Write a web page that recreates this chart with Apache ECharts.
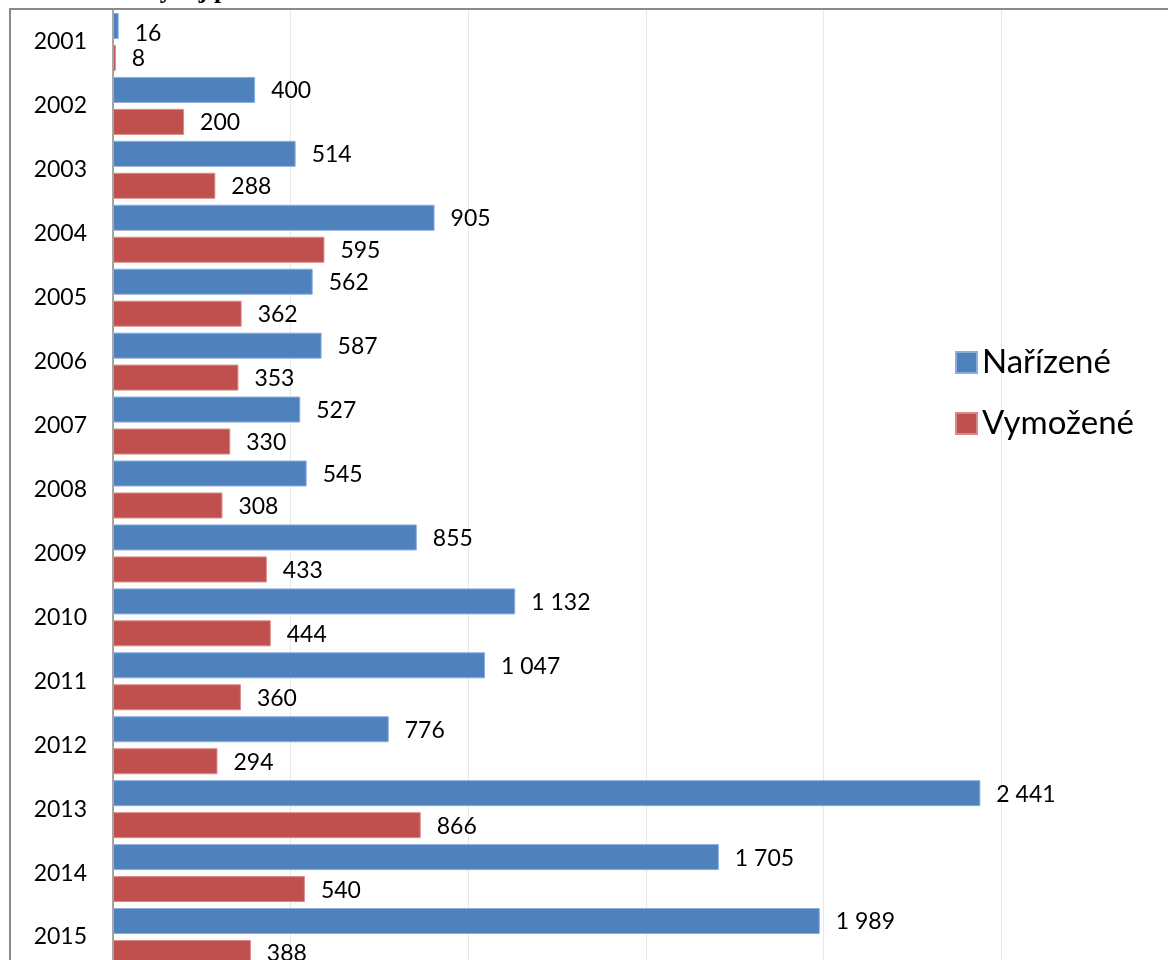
<!DOCTYPE html>
<html>
<head>
<meta charset="utf-8">
<script src="https://cdn.jsdelivr.net/npm/echarts@6/dist/echarts.min.js"></script>
<style>
  html, body { margin: 0; padding: 0; background: #fff; }
  #main { width: 1168px; height: 960px; }
</style>
</head>
<body>
<div id="main"></div>
<script>
const years = ['2001', '2002', '2003', '2004', '2005', '2006', '2007', '2008',
  '2009', '2010', '2011', '2012', '2013', '2014', '2015'];
const narizene = [16, 400, 514, 905, 562, 587, 527, 545, 855, 1132, 1047, 776, 2441, 1705, 1989];
const vymozene = [8, 200, 288, 595, 362, 353, 330, 308, 433, 444, 360, 294, 866, 540, 388];

// mezera jako oddělovač tisíců
function fmt(v) {
  return String(v).replace(/\B(?=(\d{3})+(?!\d))/g, ' ');
}

const font = 'Lato, "Open Sans", sans-serif';

const labelStyle = {
  show: true,
  position: 'right',
  distance: 16,
  offset: [0, 1],
  color: '#000',
  fontFamily: font,
  fontSize: 23,
  formatter: p => fmt(p.value)
};

var myChart = echarts.init(document.getElementById('main'));

var option = {
  animation: false,
  backgroundColor: '#fff',
  graphic: [
    {
      type: 'rect',
      shape: { x: 10, y: 9, width: 1200, height: 1000 },
      style: { fill: 'none', stroke: '#8a8a8a', lineWidth: 2 },
      z: 0
    },
    {
      type: 'text',
      left: 141,
      top: -22,
      style: {
        text: 'Vývoj počtu',
        font: 'bold 26px "Liberation Serif", serif',
        fill: '#000'
      }
    }
  ],
  legend: {
    orient: 'vertical',
    left: 950,
    top: 341,
    itemWidth: 21,
    itemHeight: 21,
    itemGap: 28,
    icon: 'rect',
    textStyle: { fontFamily: font, fontSize: 33, lineHeight: 33, color: '#000' },
    data: ['Nařízené', 'Vymožené']
  },
  grid: { left: 113, right: -11, top: 10, bottom: -9, containLabel: false, outerBoundsMode: 'none' },
  xAxis: {
    type: 'value',
    min: 0,
    max: 3000,
    interval: 500,
    axisLabel: { show: false },
    axisLine: { show: false },
    axisTick: { show: false },
    splitLine: { lineStyle: { color: '#e8e8e8', width: 1 } }
  },
  yAxis: {
    type: 'category',
    inverse: true,
    data: years,
    axisLine: { lineStyle: { color: '#8a8a8a', width: 1.5 } },
    axisTick: { length: 8, lineStyle: { color: '#8a8a8a' } },
    axisLabel: { color: '#000', fontFamily: font, fontSize: 23, margin: 26 }
  },
  series: [
    {
      name: 'Nařízené',
      type: 'bar',
      barWidth: 26,
      barGap: '23%',
      itemStyle: { color: '#4F81BD', borderColor: '#8AAEDB', borderWidth: 1 },
      label: labelStyle,
      data: narizene.map((v, i) => i === 0 ? { value: v, label: { offset: [0, 8] } } : v)
    },
    {
      name: 'Vymožené',
      type: 'bar',
      barWidth: 26,
      itemStyle: { color: '#C0504D', borderColor: '#D88A88', borderWidth: 1 },
      label: labelStyle,
      data: vymozene
    }
  ]
};

myChart.setOption(option);
</script>
</body>
</html>
